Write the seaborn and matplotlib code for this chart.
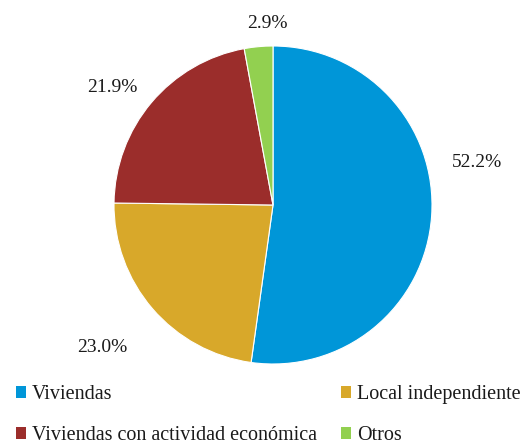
import numpy as np
import matplotlib
matplotlib.use("Agg")
import matplotlib.pyplot as plt
import seaborn as sns
from matplotlib.patches import Patch

sns.set_theme(style="white")
plt.rcParams['font.family'] = ['Liberation Serif', 'DejaVu Serif']
FAM = ['Liberation Serif', 'DejaVu Serif']

categories = ["Viviendas", "Local independiente", "Viviendas con actividad económica", "Otros"]
values = [52.2, 23.0, 21.9, 2.9]
labels = ["52.2%", "23.0%", "21.9%", "2.9%"]
colors = ["#0096D8", "#D8A82A", "#9B2D2B", "#92D050"]

# label placement style: (radial distance, angle offset in degrees)
label_style = [(1.314, 15.8), (1.40, -0.8), (1.255, 3.9), (1.14, -3.3)]

fig = plt.figure(figsize=(5.27, 4.45), dpi=100)
ax = fig.add_axes([114/527, (445-364)/445, 318/527, 318/445])
wedges, _ = ax.pie(values, colors=colors, startangle=90, counterclock=False,
                   radius=1.0, wedgeprops=dict(linewidth=0.8, edgecolor="white"))
for w, lab, (r, off) in zip(wedges, labels, label_style):
    mid = np.deg2rad((w.theta1 + w.theta2) / 2 + off)
    ax.text(r * np.cos(mid), r * np.sin(mid), lab, ha="center", va="center",
            fontsize=14, color="#1a1a1a", family=FAM)
ax.set_xlim(-1, 1)
ax.set_ylim(-1, 1)
ax.set_aspect("equal")
ax.axis("off")

# legend laid out row-wise (matplotlib fills columns first)
order = [0, 2, 1, 3]
handles = [Patch(facecolor=colors[i], edgecolor="none") for i in order]
fig.legend(handles, [categories[i] for i in order], ncol=2, loc="lower left",
           bbox_to_anchor=(0.003, -0.032), frameon=False,
           prop=dict(family=FAM, size=14.5),
           labelcolor="#1a1a1a",
           handlelength=0.5, handleheight=0.5, handletextpad=0.3,
           columnspacing=1.2, labelspacing=1.1, borderpad=0.2)

fig.savefig("out.png", dpi=100)
